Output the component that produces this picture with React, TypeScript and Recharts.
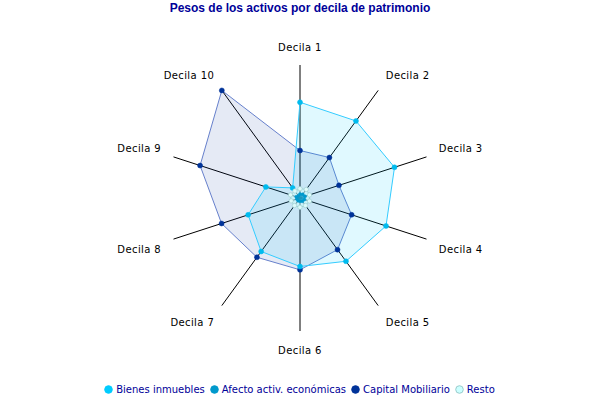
import React from 'react';
import { RadarChart, Radar, PolarGrid, PolarAngleAxis, PolarRadiusAxis, Legend } from 'recharts';

const categories = ['Decila 1', 'Decila 2', 'Decila 3', 'Decila 4', 'Decila 5', 'Decila 6', 'Decila 7', 'Decila 8', 'Decila 9', 'Decila 10'];
const bienesInmuebles = [72, 71.6, 74.7, 68, 58.8, 51.5, 49.7, 41, 27, 9.4];
const afectoActiv = [3, 3.5, 4, 3.5, 3, 2.5, 2.5, 2.5, 3, 2];
const capitalMobiliario = [35.7, 37.6, 30.8, 40.8, 48, 54, 55.1, 62, 79, 100];
const resto = [7, 8, 7.5, 7.5, 7, 7, 7, 7, 7.5, 6.5];

const seriesNames = ['Bienes inmuebles', 'Afecto activ. económicas', 'Capital Mobiliario', 'Resto'];

const data = categories.map((c, i) => ({
  name: c,
  bienes: bienesInmuebles[i],
  afecto: afectoActiv[i],
  capital: capitalMobiliario[i],
  resto: resto[i],
}));

const legendItems = [
  { name: seriesNames[0], fill: '#00CCFF', stroke: '#00CCFF' },
  { name: seriesNames[1], fill: '#0099CC', stroke: '#0099CC' },
  { name: seriesNames[2], fill: '#003399', stroke: '#003399' },
  { name: seriesNames[3], fill: '#CCFFFF', stroke: '#99CCCC' },
];

const OUTER = 133;

const AngleTick = (props: any) => {
  const { x, y, cx, cy, payload } = props;
  const dx = x - cx;
  const dy = y - cy;
  const len = Math.sqrt(dx * dx + dy * dy) || 1;
  const ux = dx / len;
  const uy = dy / len;
  const R = typeof props.radius === 'number' ? props.radius : OUTER;
  const d = 13;
  const ex = cx + ux * (R + d);
  const ey = cy + uy * (R + d);
  let anchor: 'start' | 'middle' | 'end' = 'middle';
  if (ux > 0.05) anchor = 'start';
  else if (ux < -0.05) anchor = 'end';
  let vy = Math.abs(uy) > 0.99 ? Math.sign(uy) * 5 : Math.sign(uy) * 4.5;
  if (uy > 0) vy += 1.5;
  return (
    <text x={ex} y={ey + vy} textAnchor={anchor} dominantBaseline="central" fontFamily="DejaVu Sans" fontSize={10} letterSpacing={0.4} fill="#000">
      {payload.value}
    </text>
  );
};

const LegendContent = () => (
  <div style={{ display: 'flex', justifyContent: 'center', alignItems: 'center', fontFamily: 'DejaVu Sans', fontSize: 10, color: '#000099', paddingLeft: 4 }}>
    {legendItems.map((it) => (
      <div key={it.name} style={{ display: 'flex', alignItems: 'center', marginRight: 5 }}>
        <svg width={9} height={9} style={{ marginRight: 3 }}>
          <circle cx={4.5} cy={4.5} r={3.8} fill={it.fill} stroke={it.stroke} strokeWidth={1} />
        </svg>
        <span>{it.name}</span>
      </div>
    ))}
  </div>
);

export default function App() {
  return (
    <div style={{ position: 'absolute', left: 0, top: 0, width: 600, height: 400, background: '#fff' }}>
      <div style={{ position: 'absolute', left: 0, top: 1, width: 600, textAlign: 'center', fontFamily: 'Liberation Sans', fontWeight: 'bold', fontSize: 12, color: '#000099', zIndex: 2 }}>
        Pesos de los activos por decila de patrimonio
      </div>
      <RadarChart width={600} height={400} data={data} cx={300} cy={198} outerRadius={OUTER} startAngle={90} endAngle={-270}>
        <PolarGrid gridType="polygon" polarRadius={[]} stroke="#000" strokeOpacity={1} />
        <PolarAngleAxis dataKey="name" axisLine={false} tickLine={false} tick={<AngleTick />} />
        <PolarRadiusAxis domain={[0, 100]} tick={false} axisLine={false} />
        <Radar name={seriesNames[2]} dataKey="capital" stroke="#6680CC" strokeWidth={1} fill="#003399" fillOpacity={0.1} dot={{ r: 2.5, fill: '#003399', stroke: '#003399', strokeWidth: 0.5, fillOpacity: 1 }} isAnimationActive={false} />
        <Radar name={seriesNames[0]} dataKey="bienes" stroke="#33CCFF" strokeWidth={1} fill="#00CCFF" fillOpacity={0.12} dot={{ r: 2.5, fill: '#00BBEE', stroke: '#00BBEE', strokeWidth: 0.5, fillOpacity: 1 }} isAnimationActive={false} />
        <Radar name={seriesNames[3]} dataKey="resto" stroke="#99CCCC" strokeWidth={0.8} fill="#CCFFFF" fillOpacity={0.5} dot={{ r: 2.2, fill: '#DDFAFA', stroke: '#99CCCC', strokeWidth: 0.6, fillOpacity: 1 }} isAnimationActive={false} />
        <Radar name={seriesNames[1]} dataKey="afecto" stroke="#0099CC" strokeWidth={1} fill="#0099CC" fillOpacity={0.7} dot={{ r: 1.5, fill: '#0099CC', stroke: '#0099CC', strokeWidth: 0.5, fillOpacity: 1 }} isAnimationActive={false} />
        <Legend content={<LegendContent />} wrapperStyle={{ position: 'absolute', left: 0, top: 384, width: 600 }} />
      </RadarChart>
    </div>
  );
}
